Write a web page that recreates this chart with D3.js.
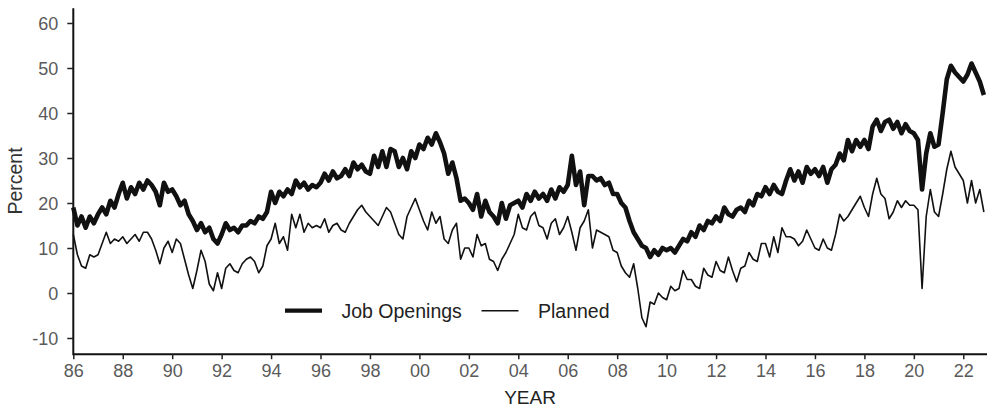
<!DOCTYPE html>
<html>
<head>
<meta charset="utf-8">
<script src="https://cdn.jsdelivr.net/npm/d3@7"></script>
<style>
  html, body { margin: 0; padding: 0; background: #fff; }
  svg { display: block; }
  text { font-family: "Liberation Sans", Arial, sans-serif; }
</style>
</head>
<body>
<svg id="chart" width="987" height="408"></svg>
<script>
// ---- Data (bimonthly observations: Jan, Mar, May, Jul, Sep, Nov) ----
const startYear = 1986;
const stepMonths = 2;

const jobOpenings = [
  // 1986
  19, 15, 17, 14.5, 17, 15.5,
  // 1987
  17.5, 19, 17.5, 20.5, 19, 22,
  // 1988
  24.5, 21, 23.5, 22, 24.5, 23,
  // 1989
  25, 24, 22.5, 19.5, 24.5, 22.5,
  // 1990
  23, 21.5, 19.5, 20.5, 17.5, 16,
  // 1991
  14, 15.5, 13.5, 14.5, 12, 11,
  // 1992
  13, 15.5, 14, 14.5, 13.5, 15,
  // 1993
  15, 16, 15.5, 17, 16.5, 18,
  // 1994
  22.5, 20, 22.5, 21.5, 23, 22,
  // 1995
  25, 23.5, 24.5, 23, 24, 23.5,
  // 1996
  24.5, 26.5, 25, 27, 25.5, 26,
  // 1997
  27.5, 26, 29, 27.5, 28.5, 27,
  // 1998
  26.5, 30.5, 28, 31.5, 28, 32,
  // 1999
  31.5, 28, 30, 27.5, 31.5, 30,
  // 2000
  33, 32, 34.5, 33, 35.5, 33.5,
  // 2001
  31, 26.5, 29, 25.5, 20.5, 21,
  // 2002
  20, 18.5, 22, 17, 20.5, 18,
  // 2003
  17, 15.5, 20, 16.5, 19.5, 20,
  // 2004
  20.5, 19, 22, 20.5, 22.5, 21,
  // 2005
  22, 20.5, 23, 21, 23.5, 22.5,
  // 2006
  24, 30.5, 24, 27, 19.5, 26,
  // 2007
  26, 25, 25.5, 24, 24.5, 22,
  // 2008
  22, 20, 19, 16, 13.5, 12,
  // 2009
  10.5, 10, 8, 9.5, 8.5, 10,
  // 2010
  9.5, 10, 9, 10.5, 12, 11.5,
  // 2011
  13.5, 12.5, 15, 14, 16, 15.5,
  // 2012
  17, 16, 19, 17.5, 17, 18.5,
  // 2013
  19, 18, 20.5, 19.5, 22, 21.5,
  // 2014
  23.5, 22, 24, 22.5, 22, 25,
  // 2015
  27.5, 25, 27, 24.5, 28, 26.5,
  // 2016
  27.5, 26, 28, 24.5, 27.5, 28.5,
  // 2017
  31, 29.5, 34, 31.5, 34, 32.5,
  // 2018
  34, 32, 37, 38.5, 36, 38,
  // 2019
  38.5, 36.5, 38, 35.5, 37.5, 36,
  // 2020
  35.5, 34, 23, 31, 35.5, 32.5,
  // 2021
  33, 40, 47.5, 50.5, 49, 48,
  // 2022
  47, 48.5, 51, 49, 47, 44
];

const planned = [
  // 1986
  13, 8.5, 6, 5.5, 8.5, 8,
  // 1987
  8.5, 11, 13.5, 11, 12, 11.5,
  // 1988
  12.5, 11, 12, 13, 11.5, 13.5,
  // 1989
  13.5, 12, 9.5, 6.5, 10, 11.5,
  // 1990
  9, 12, 11, 7.5, 4, 1,
  // 1991
  5, 9.5, 7, 2, 0.5, 4.5,
  // 1992
  1, 5.5, 6.5, 5, 4.5, 6.5,
  // 1993
  7.5, 8, 7, 4.5, 6, 10.5,
  // 1994
  12, 15.5, 11, 12.5, 9.5, 17.5,
  // 1995
  14.5, 17.5, 13.5, 15.5, 14.5, 15,
  // 1996
  14.5, 16.5, 13.5, 15, 15.5, 14,
  // 1997
  13.5, 15.5, 17, 18.5, 19.5, 18,
  // 1998
  17, 16, 15, 17, 19, 18,
  // 1999
  15.5, 13, 12, 17, 19, 21,
  // 2000
  18.5, 16, 14, 18, 15.5, 17,
  // 2001
  12, 11, 14, 15.5, 7.5, 10,
  // 2002
  10, 8, 13, 10.5, 11, 7.5,
  // 2003
  7, 5, 7.5, 9, 11, 13,
  // 2004
  17.5, 14.5, 14, 17, 18, 15,
  // 2005
  14.5, 12, 15.5, 16.5, 13, 14.5,
  // 2006
  17, 13.5, 9.5, 14.5, 16, 18.5,
  // 2007
  10, 14, 13.5, 13, 12.5, 9.5,
  // 2008
  9, 6, 4.5, 3.5, 6.5, 1,
  // 2009
  -5.5, -7.5, -2, -2.5, 0, -1,
  // 2010
  -1.5, 1.5, 0.5, 1, 5, 3,
  // 2011
  3, 1.5, 1, 5.5, 4, 3.5,
  // 2012
  7, 5, 4.5, 8, 5, 2.5,
  // 2013
  5.5, 6, 9, 7.5, 7, 11,
  // 2014
  11, 8, 12.5, 9, 14.5, 12.5,
  // 2015
  12.5, 12, 10.5, 11.5, 14, 12,
  // 2016
  10, 9.5, 12, 10, 9.5, 13,
  // 2017
  17.5, 16, 17, 18.5, 20, 21.5,
  // 2018
  19, 17, 22, 25.5, 22, 21,
  // 2019
  16.5, 18, 20.5, 19, 20.5, 19.5,
  // 2020
  19.5, 18.5, 1, 17, 23, 18,
  // 2021
  17, 22, 27.5, 31.5, 28, 26.5,
  // 2022
  25, 20, 25, 20, 23, 18
];

const xTickYears = [1986, 1988, 1990, 1992, 1994, 1996, 1998, 2000, 2002, 2004,
                    2006, 2008, 2010, 2012, 2014, 2016, 2018, 2020, 2022];
const yTickValues = [-10, 0, 10, 20, 30, 40, 50, 60];
const seriesNames = ["Job Openings", "Planned"];

(function draw() {
  const svg = d3.select("#chart");
  const mLeft = 73.3, mRight = 988, mTop = 8.15, mBottom = 354.2;

  const x = d3.scaleLinear().domain([1986, 2023]).range([mLeft, mRight]);
  const y = d3.scaleLinear().domain([-13.6, 63.3]).range([mBottom, mTop]);

  const dateOf = i => startYear + i * stepMonths / 12;

  const line = d3.line()
    .x((d, i) => x(dateOf(i)))
    .y(d => y(d));

  // ---- Lines ----
  svg.append("path")
    .datum(planned)
    .attr("fill", "none")
    .attr("stroke", "#111")
    .attr("stroke-width", 1.6)
    .attr("stroke-linejoin", "round")
    .attr("d", line);

  svg.append("path")
    .datum(jobOpenings)
    .attr("fill", "none")
    .attr("stroke", "#111")
    .attr("stroke-width", 4.6)
    .attr("stroke-linejoin", "round")
    .attr("d", line);

  // ---- Axes ----
  const xAxis = d3.axisBottom(x)
    .tickValues(xTickYears)
    .tickSize(5)
    .tickFormat(d => String(d % 100).padStart(2, "0"));

  const gx = svg.append("g")
    .attr("transform", `translate(0,${mBottom})`)
    .call(xAxis);
  gx.select(".domain").attr("stroke", "#111").attr("stroke-width", 2)
    .attr("d", `M${mLeft},0H987`);
  gx.selectAll(".tick line").attr("stroke", "#222").attr("stroke-width", 1.5);
  gx.selectAll(".tick text")
    .attr("fill", "#5a5a5a")
    .style("font-size", "18px")
    .attr("y", 10)
    .attr("dy", "0.71em");

  const yAxis = d3.axisLeft(y)
    .tickValues(yTickValues)
    .tickSize(6)
    .tickFormat(d => String(d));

  const gy = svg.append("g")
    .attr("transform", `translate(${mLeft},0)`)
    .call(yAxis);
  gy.select(".domain").attr("stroke", "#111").attr("stroke-width", 2)
    .attr("d", `M0,${mTop}V${mBottom + 1}`);
  gy.selectAll(".tick line").attr("stroke", "#222").attr("stroke-width", 1.5);
  gy.selectAll(".tick text")
    .attr("fill", "#5a5a5a")
    .style("font-size", "18px")
    .attr("x", -15)
    .attr("dy", "0.34em");

  // ---- Axis titles ----
  svg.append("text")
    .attr("x", 530)
    .attr("y", 403.5)
    .attr("text-anchor", "middle")
    .attr("fill", "#222")
    .style("font-size", "19px")
    .text("YEAR");

  svg.append("text")
    .attr("transform", "translate(22,181) rotate(-90)")
    .attr("text-anchor", "middle")
    .attr("fill", "#333")
    .style("font-size", "19.5px")
    .text("Percent");

  // ---- Legend ----
  const legend = svg.append("g");
  const legendItems = [
    { name: seriesNames[0], width: 4.2, x1: 285, x2: 322, tx: 341.5 },
    { name: seriesNames[1], width: 1.6, x1: 481.5, x2: 518.5, tx: 538 }
  ];
  legendItems.forEach(it => {
    legend.append("line")
      .attr("x1", it.x1).attr("x2", it.x2)
      .attr("y1", 310.7).attr("y2", 310.7)
      .attr("stroke", "#111").attr("stroke-width", it.width);
    legend.append("text")
      .attr("x", it.tx).attr("y", 317.5)
      .attr("fill", "#222")
      .style("font-size", "19.5px")
      .text(it.name);
  });
})();
</script>
</body>
</html>
